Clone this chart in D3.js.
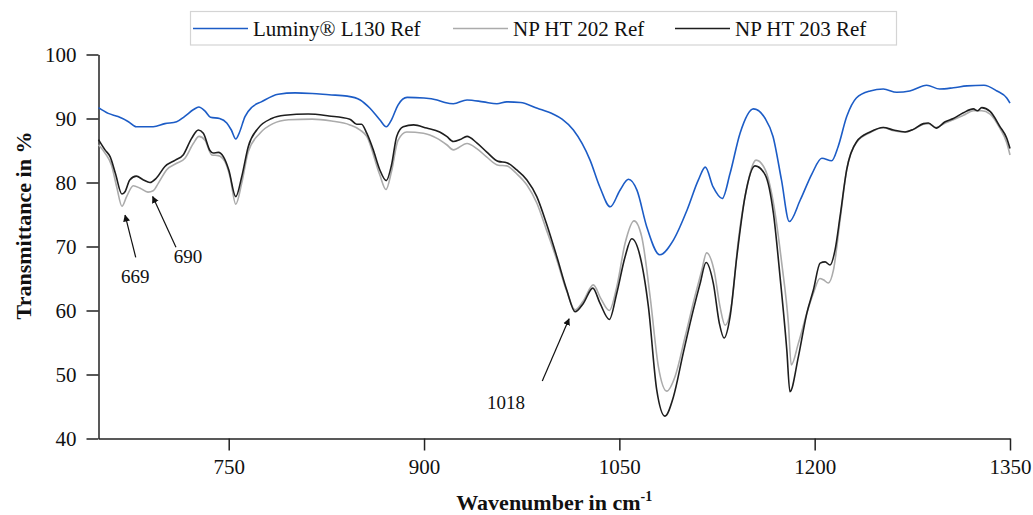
<!DOCTYPE html>
<html>
<head>
<meta charset="utf-8">
<script src="https://cdn.jsdelivr.net/npm/d3@7"></script>
<style>
  body { margin: 0; background: #fff; }
  svg text { font-family: "Liberation Serif", "Times New Roman", serif; fill: #111; }
  .axis path, .axis line { stroke: #222; stroke-width: 1.5; }
  .axis text { font-size: 21px; }
</style>
</head>
<body>
<div class="svg_area"></div>
<script>
// FTIR spectra, transmittance vs wavenumber

// series names
var seriesNames = ["Luminy® L130 Ref", "NP HT 202 Ref", "NP HT 203 Ref"];

// Luminy L130
var lumWave = [650, 657.5, 665, 673, 679, 692, 701, 710, 716, 723, 727, 732, 736, 743, 748.5, 752, 755.5, 758, 762.5, 768,
  775, 788, 801, 814, 827, 841, 851, 858.5, 866, 871, 875, 880, 887, 900, 910, 916, 922.5, 933, 945.5, 956,
  963.5, 974, 987, 999, 1006, 1014.7, 1027.5, 1035, 1043, 1050.5, 1057, 1063.5, 1071, 1081, 1091.5, 1102, 1110.7, 1116, 1122, 1129,
  1135, 1142.7, 1153, 1162, 1168, 1174.5, 1180.5, 1189, 1198, 1205.5, 1213, 1218, 1224.6, 1232, 1242.6, 1252.7, 1263, 1273, 1286, 1296,
  1306.5, 1317, 1330, 1340, 1347.5, 1350];
var lumT = [91.7, 90.8, 90.3, 89.5, 88.7, 88.7, 89.2, 89.5, 90.3, 91.4, 91.8, 91.1, 90.2, 90.0, 89.3, 88.2, 86.8, 87.7, 90.3, 91.8,
  92.6, 93.8, 94.0, 93.9, 93.7, 93.5, 92.9, 91.6, 89.8, 88.7, 89.8, 92.1, 93.3, 93.2, 92.9, 92.5, 92.3, 92.9, 92.6, 92.3,
  92.6, 92.5, 91.6, 90.7, 89.9, 88.2, 83.5, 79.3, 76.2, 78.8, 80.5, 78.8, 73.1, 68.7, 71.0, 75.7, 80.4, 82.4, 79.3, 77.5,
  81.4, 87.7, 91.5, 90.0, 87.2, 80.4, 73.9, 77.3, 81.4, 83.8, 83.4, 85.6, 90.3, 93.2, 94.3, 94.6, 94.1, 94.3, 95.2, 94.6,
  94.8, 95.1, 95.2, 94.3, 93.2, 92.4];

// NP HT 202
var np202Wave = [650, 655, 660, 664, 668, 671.6, 676.7, 682, 688, 692, 696, 702.4, 710, 716.4, 722.8, 727.2, 731.8, 737, 742, 747,
  751, 755.4, 760, 765, 774, 784, 796, 814, 829, 843, 851, 856, 866, 870.8, 875, 880, 886.7, 899.5, 910, 917.4,
  922.5, 933, 940.5, 948, 957, 963.5, 971, 979, 986.6, 994, 1002, 1009.6, 1016, 1022, 1030, 1035.7, 1042.3, 1048, 1054.4, 1061.3,
  1067.2, 1073.6, 1080, 1086.4, 1092.8, 1100.5, 1108, 1113.3, 1117, 1122.7, 1127.3, 1131.2, 1136.3, 1141.4, 1148, 1155, 1162, 1168.3, 1174.7, 1179.8,
  1182, 1187.5, 1194, 1199, 1204, 1206.7, 1210.5, 1214.4, 1219.5, 1224.6, 1232.3, 1242.6, 1252.7, 1260.5, 1269.4, 1275.8, 1283.5, 1287.3, 1293.3, 1300.2,
  1306.5, 1314.2, 1321.9, 1328.3, 1334.7, 1342.4, 1347.5, 1350];
var np202T = [85.9, 84.6, 82.7, 79.3, 76.3, 77.8, 79.5, 79.1, 78.5, 78.7, 79.9, 82.0, 83.0, 83.8, 86.1, 87.2, 86.6, 84.3, 84.2, 83.3,
  80.9, 76.6, 79.9, 84.8, 87.7, 89.2, 89.8, 89.9, 89.6, 89.0, 88.2, 87.2, 81.2, 78.9, 81.7, 86.6, 87.9, 87.7, 86.9, 85.9,
  85.1, 86.1, 85.3, 84.0, 82.7, 82.6, 81.4, 79.6, 76.8, 72.6, 67.9, 63.0, 60.1, 61.4, 64.0, 61.9, 60.0, 63.7, 70.5, 74.0,
  71.5, 62.2, 51.2, 47.4, 49.7, 55.9, 62.2, 66.3, 69.0, 66.3, 60.6, 57.7, 61.1, 71.0, 79.3, 83.5, 82.0, 76.8, 67.4, 58.0,
  51.5, 54.9, 59.6, 62.7, 65.0, 64.8, 64.3, 66.3, 74.1, 82.0, 86.3, 87.8, 88.6, 88.1, 87.9, 88.3, 89.1, 89.2, 88.6, 89.3,
  89.8, 90.5, 91.2, 91.2, 90.7, 88.4, 86.2, 84.3];

// NP HT 203
var np203Wave = [650, 655, 659, 663, 668, 670.5, 674, 679, 684.5, 689.5, 694.5, 701, 709, 715, 721.5, 726.7, 730.5, 735.6, 738, 742,
  746, 750, 755.4, 760, 765, 772.7, 783, 793, 811, 827, 843, 848.3, 852, 856, 861, 866, 871, 875, 879, 884,
  892, 902, 912, 917.4, 922.5, 927.7, 933, 940.5, 948, 957, 963.5, 971, 979, 986.6, 994, 1002, 1009.6, 1016, 1022.3, 1029.6,
  1035.2, 1042.3, 1048, 1054.4, 1059.5, 1066, 1072.3, 1078.7, 1085, 1091.5, 1099, 1106.8, 1112, 1116.6, 1122.2, 1126.8, 1130.4, 1135, 1140.2, 1146.5,
  1154.2, 1162, 1168.3, 1173.4, 1178.6, 1181, 1187.5, 1194, 1199, 1204.2, 1208, 1211.8, 1215.7, 1219.5, 1224.6, 1232.3, 1242.6, 1252.7, 1260.5, 1269.4,
  1275.8, 1283.5, 1287.3, 1293.3, 1300.2, 1306.5, 1314.2, 1321.9, 1325, 1328.3, 1334.7, 1342.4, 1347.5, 1350];
var np203T = [86.7, 85.1, 84.0, 81.4, 78.2, 78.6, 80.4, 81.0, 80.4, 80.0, 80.7, 82.5, 83.5, 84.3, 86.9, 88.2, 87.7, 85.0, 84.6, 84.7,
  84.0, 82.0, 77.8, 80.9, 85.6, 88.5, 90.0, 90.5, 90.7, 90.4, 89.9, 89.1, 89.1, 87.7, 85.1, 82.0, 80.3, 82.7, 87.2, 88.7,
  89.0, 88.5, 87.9, 87.2, 86.4, 86.7, 87.2, 86.2, 84.8, 83.3, 83.1, 82.0, 80.4, 77.8, 73.6, 68.4, 63.2, 59.8, 61.1, 63.5,
  61.1, 58.6, 62.7, 68.4, 71.2, 68.4, 60.6, 47.6, 43.5, 46.5, 53.3, 60.1, 64.2, 67.5, 64.2, 58.0, 55.7, 59.0, 68.4, 77.8,
  82.6, 81.2, 75.2, 65.3, 53.8, 47.3, 52.8, 59.6, 63.2, 67.4, 67.6, 67.1, 69.5, 74.7, 82.0, 86.4, 87.9, 88.6, 88.2, 87.9,
  88.3, 89.2, 89.3, 88.5, 89.5, 90.0, 90.9, 91.5, 91.2, 91.7, 91.1, 88.7, 86.9, 85.3];

// axis ticks
var xTicks = [750, 900, 1050, 1200, 1350];
var yTicks = [40, 50, 60, 70, 80, 90, 100];

// peak labels: text, arrow tip, arrow tail, text anchor (data units)
var peakLabels = ["669", "690", "1018"];
var peakTip = [[670.4, 74.9], [691.6, 77.8], [1011.4, 58.7]];
var peakTail = [[678.6, 68.3], [709.5, 69.9], [990.8, 49.0]];
var peakText = [[678.3, 64.3], [718.7, 67.4], [963, 44.6]];

// SVG area
var svgWidth = 1033;
var svgHeight = 515;

var margin = { top: 54.5, right: 23, bottom: 76.5, left: 98.5 };
var chartWidth = svgWidth - margin.left - margin.right;
var chartHeight = svgHeight - margin.top - margin.bottom;

var svg = d3.select(".svg_area")
  .append("svg")
  .attr("width", svgWidth)
  .attr("height", svgHeight);

var chartGroup = svg.append("g")
  .attr("transform", `translate(${margin.left}, ${margin.top})`);

// scales
var xLinearScale = d3.scaleLinear()
  .domain([650, 1350])
  .range([0, chartWidth]);

var yLinearScale = d3.scaleLinear()
  .domain([40, 100])
  .range([chartHeight, 0]);

// axes
var bottomAxis = d3.axisBottom(xLinearScale)
  .tickValues(xTicks)
  .tickSize(12)
  .tickSizeOuter(0)
  .tickPadding(9)
  .tickFormat(d3.format("d"));

var leftAxis = d3.axisLeft(yLinearScale)
  .tickValues(yTicks)
  .tickSize(12)
  .tickSizeOuter(0)
  .tickPadding(10)
  .tickFormat(d3.format("d"));

chartGroup.append("g")
  .attr("class", "axis")
  .attr("transform", `translate(0, ${chartHeight})`)
  .call(bottomAxis);

chartGroup.append("g")
  .attr("class", "axis")
  .call(leftAxis);

// lines
var colors = ["#1c5cc6", "#ababab", "#1e1e1e"];
var waves = [lumWave, np202Wave, np203Wave];
var values = [lumT, np202T, np203T];

var line = d3.line()
  .x(d => xLinearScale(d[0]))
  .y(d => yLinearScale(d[1]))
  .curve(d3.curveMonotoneX);

// draw gray first, then blue, black on top
[1, 0, 2].forEach(function(i) {
  var pts = waves[i].map((w, j) => [w, values[i][j]]);
  chartGroup.append("path")
    .datum(pts)
    .attr("fill", "none")
    .attr("stroke", colors[i])
    .attr("stroke-width", 1.6)
    .attr("stroke-linejoin", "round")
    .attr("d", line);
});

// arrow marker
svg.append("defs").append("marker")
  .attr("id", "arrow")
  .attr("viewBox", "0 0 10 10")
  .attr("refX", 9)
  .attr("refY", 5)
  .attr("markerWidth", 7)
  .attr("markerHeight", 9)
  .attr("markerUnits", "userSpaceOnUse")
  .attr("orient", "auto")
  .append("path")
  .attr("d", "M0,0 L10,5 L0,10 Z")
  .attr("fill", "#111");

peakLabels.forEach(function(lbl, i) {
  chartGroup.append("line")
    .attr("x1", xLinearScale(peakTail[i][0]))
    .attr("y1", yLinearScale(peakTail[i][1]))
    .attr("x2", xLinearScale(peakTip[i][0]))
    .attr("y2", yLinearScale(peakTip[i][1]))
    .attr("stroke", "#111")
    .attr("stroke-width", 1.2)
    .attr("marker-end", "url(#arrow)");

  chartGroup.append("text")
    .attr("x", xLinearScale(peakText[i][0]))
    .attr("y", yLinearScale(peakText[i][1]))
    .attr("text-anchor", "middle")
    .attr("font-size", "19px")
    .text(lbl);
});

// axes labels
chartGroup.append("text")
  .attr("transform", "rotate(-90)")
  .attr("x", 0 - (225.5 - margin.top))
  .attr("y", 31 - margin.left)
  .attr("text-anchor", "middle")
  .attr("font-size", "22px")
  .attr("font-weight", "bold")
  .text("Transmittance in %");

var xLabel = chartGroup.append("text")
  .attr("x", chartWidth / 2)
  .attr("y", chartHeight + 71)
  .attr("text-anchor", "middle")
  .attr("font-size", "22px")
  .attr("font-weight", "bold");
xLabel.append("tspan").text("Wavenumber in cm");
xLabel.append("tspan")
  .attr("dy", "-9")
  .attr("font-size", "14px")
  .text("-1");

// legend
var legend = svg.append("g");
legend.append("rect")
  .attr("x", 190.5)
  .attr("y", 11.5)
  .attr("width", 706)
  .attr("height", 33.5)
  .attr("fill", "#fff")
  .attr("stroke", "#d4d4d4")
  .attr("stroke-width", 1.2);

var legendX = [193, 453, 675];
seriesNames.forEach(function(name, i) {
  legend.append("line")
    .attr("x1", legendX[i])
    .attr("x2", legendX[i] + 55)
    .attr("y1", 28.5)
    .attr("y2", 28.5)
    .attr("stroke", colors[i])
    .attr("stroke-width", 1.6);
  legend.append("text")
    .attr("x", legendX[i] + 60)
    .attr("y", 36)
    .attr("font-size", "21px")
    .text(name);
});
</script>
</body>
</html>
